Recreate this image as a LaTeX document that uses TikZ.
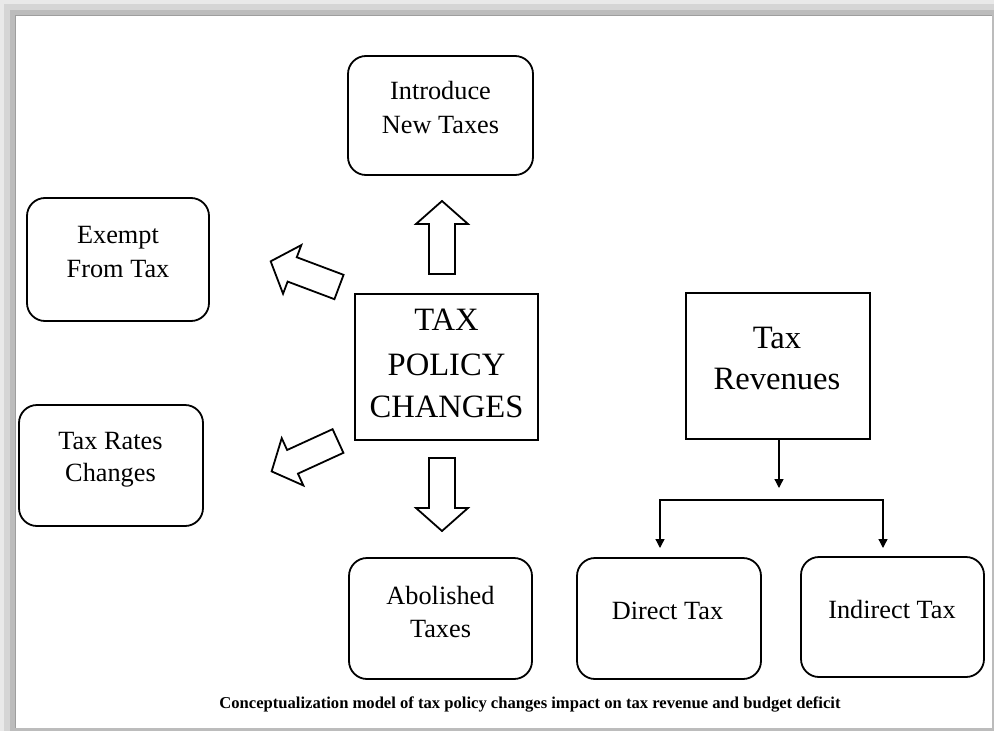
\documentclass[tikz,border=0pt]{standalone}
\usepackage{fontspec}
\setmainfont{Liberation Serif}
\usetikzlibrary{arrows.meta}

\definecolor{frameA}{HTML}{E9E9E9}
\definecolor{frameB}{HTML}{D5D5D5}
\definecolor{frameC}{HTML}{BCBCBC}
\definecolor{frameEdge}{HTML}{9E9E9E}

\begin{document}
\begin{tikzpicture}[x=1pt,y=-1pt,
  rbox/.style={draw, line width=1.8pt, rounded corners=18pt, inner sep=0pt},
  sbox/.style={draw, line width=1.8pt, inner sep=0pt},
  txt/.style={anchor=base, inner sep=0pt, font=\fontsize{26.3}{26.3}\selectfont},
  bigtxt/.style={anchor=base, inner sep=0pt, font=\fontsize{32.6}{32.6}\selectfont},
  conn/.style={line width=1.3pt, -{Triangle[width=9pt,length=9pt]}},
  fork/.style={line width=1.3pt, {Triangle[width=9pt,length=9pt]}-{Triangle[width=9pt,length=9pt]}},
  blockarrow/.pic={
    \draw[line width=1.8pt, line join=miter, fill=white]
      (0,-13) -- (50,-13) -- (50,-26) -- (73,0) -- (50,26) -- (50,13) -- (0,13) -- cycle;
  }]

% page frame with its soft shadow
\fill[frameA] (0,0) rectangle (994,731);
\fill[frameB] (4,4) rectangle (994,731);
\fill[frameC] (10,10) rectangle (994,731);
\fill[white] (15,15) rectangle (992,728);
\draw[frameEdge, line width=1pt] (15,728) -- (15,15) -- (992,15);
\useasboundingbox (0,0) rectangle (994,731);

% central box
\node[sbox, minimum width=183pt, minimum height=146pt] (policy) at (446.5,367) {};
\node[bigtxt] (policyA) at (446.5,330) {TAX};
\node[bigtxt] (policyB) at (446.5,375) {POLICY};
\node[bigtxt] (policyC) at (446.5,417) {CHANGES};

% policy options
\node[rbox, minimum width=185pt, minimum height=119pt] (intro) at (440.5,115.5) {};
\node[txt] (introA) at (440.5,99) {Introduce};
\node[txt] (introB) at (440.5,133) {New Taxes};

\node[rbox, minimum width=182pt, minimum height=123pt] (exempt) at (118,259.5) {};
\node[txt] (exemptA) at (118,243) {Exempt};
\node[txt] (exemptB) at (118,277) {From Tax};

\node[rbox, minimum width=184pt, minimum height=121pt] (rates) at (111,465.5) {};
\node[txt] (ratesA) at (110.5,449) {Tax Rates};
\node[txt] (ratesB) at (110.5,481) {Changes};

\node[rbox, minimum width=183pt, minimum height=121pt] (abol) at (440.5,618.5) {};
\node[txt] (abolA) at (440.5,604) {Abolished};
\node[txt] (abolB) at (440.5,637) {Taxes};

% block arrows out of the central box
\pic[rotate=90] at (442,274) {blockarrow};
\pic[rotate=-90] at (442,458) {blockarrow};
\pic[rotate=159.4] at (339,287) {blockarrow};
\pic[rotate=204.6] at (338,441) {blockarrow};

% revenue side
\node[sbox, minimum width=184pt, minimum height=146pt] (rev) at (778,366) {};
\node[bigtxt] (revA) at (777,348) {Tax};
\node[bigtxt] (revB) at (777,389) {Revenues};

\node[rbox, minimum width=184pt, minimum height=121pt] (direct) at (669,618.5) {};
\node[txt] (directT) at (667.5,619) {Direct Tax};

\node[rbox, minimum width=183pt, minimum height=120pt] (indirect) at (892.5,617) {};
\node[txt] (indirectT) at (892,618) {Indirect Tax};

\coordinate (split) at (779,488);
\coordinate (busL) at (660,500);
\coordinate (busR) at (883,500);
\coordinate (tipL) at (660,548);
\coordinate (tipR) at (883,548);

\draw[conn] (rev.south -| split) -- (split);
\draw[fork] (tipL) -- (busL) -- (busR) -- (tipR);

% caption
\node[anchor=base, inner sep=0pt, font=\bfseries\fontsize{16.6}{16.6}\selectfont] (caption) at (530,708)
  {Conceptualization model of tax policy changes impact on tax revenue and budget deficit};
\end{tikzpicture}
\end{document}
